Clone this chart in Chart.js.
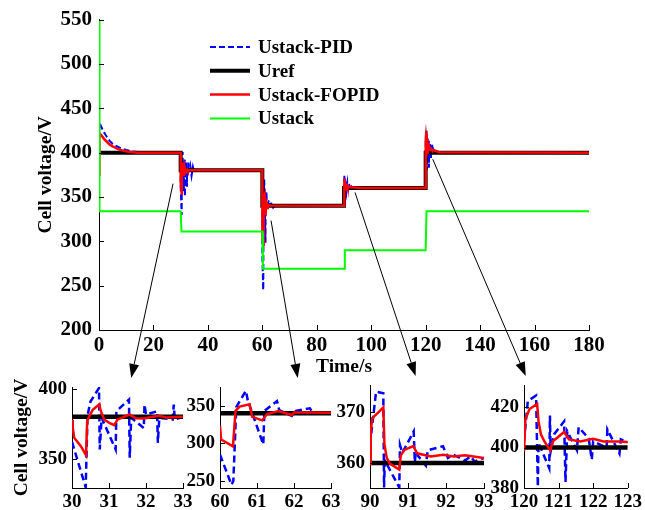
<!DOCTYPE html>
<html>
<head>
<meta charset="utf-8">
<script src="https://cdn.jsdelivr.net/npm/chart.js@4.4.1/dist/chart.umd.min.js"></script>
<style>
body { margin: 0; width: 645px; height: 510px; overflow: hidden; background: #fff; position: relative; }
canvas { position: absolute; }
</style>
</head>
<body>
<canvas id="main" width="645" height="510" style="left:0;top:0"></canvas>
<canvas id="z30" width="200" height="145" style="left:0;top:365px"></canvas>
<canvas id="z60" width="160" height="145" style="left:185px;top:365px"></canvas>
<canvas id="z90" width="170" height="145" style="left:330px;top:365px"></canvas>
<canvas id="z120" width="165" height="145" style="left:480px;top:365px"></canvas>
<script>
// Pas de changement de consigne (s) et niveaux
const stepTimes = [0, 30, 60, 90, 120, 180];
const urefLevels = [400, 380, 340, 360, 400];

// Ustack (boucle ouverte)
const ustackT = [0, 0.2, 30, 30.3, 60, 60.2, 90, 90.3, 120, 120.3, 180];
const ustackV = [550, 334, 334, 311, 311, 269, 269, 290, 290, 334, 334];

// Ustack-PID : [t, V]
const pidStart = [[0, 375], [0.15, 434], [1, 428], [2, 422], [3, 417], [4, 413], [5, 410], [6, 408], [8, 405], [10, 403], [12, 401.5], [15, 400.5], [30, 400]];
const pid30 = [[30, 362], [30.37, 329.5], [30.42, 381], [30.5, 391], [30.73, 400.7], [30.75, 356.6], [30.8, 379.3], [31.18, 356.6], [31.2, 384], [31.54, 392.4], [31.56, 350.7], [31.6, 379.3], [31.94, 372], [31.96, 388.8], [32.0, 381.7], [32.3, 384], [32.32, 361.4], [32.36, 379.3], [32.72, 378.1], [32.75, 388.8], [32.78, 378.1], [33, 380], [33.5, 386], [34, 374], [34.5, 384], [35, 378], [36, 380.5], [37, 380], [60, 380]];
const pid60 = [[60, 285], [60.31, 245], [60.36, 250], [60.44, 348], [60.7, 369.6], [60.75, 357], [61.17, 298.4], [61.2, 343], [61.54, 356], [61.6, 344], [61.94, 336.4], [62.05, 343], [62.43, 346.4], [62.5, 341], [63, 341], [63.5, 344], [64, 338], [65, 341], [66, 340], [90, 340]];
const pid90 = [[90, 363.6], [90.16, 374], [90.35, 373.7], [90.37, 355.2], [90.39, 360.5], [90.77, 355.2], [90.79, 363.5], [90.85, 362], [91.15, 366.2], [91.18, 360], [91.2, 362], [91.47, 359.5], [91.52, 362.5], [91.92, 363.3], [92.05, 361], [92.2, 361.6], [92.5, 360.5], [92.65, 361.3], [92.75, 360.3], [93, 361], [94, 360.5], [120, 360]];
const pid120 = [[120, 403], [120.11, 423], [120.35, 425.7], [120.4, 380.7], [120.42, 402.3], [120.73, 389.8], [120.75, 415.8], [120.77, 398], [120.87, 406.5], [121.16, 413], [121.2, 383], [121.25, 408], [121.53, 398.7], [121.58, 410], [121.87, 404.5], [121.96, 394], [122.0, 403], [122.39, 400], [122.41, 409], [122.76, 397], [122.8, 404], [123, 402.5], [124, 401], [125, 400.5], [180, 400]];

// Ustack-FOPID : [t, V]
const fopidStart = [[0, 375], [0.15, 422], [1, 419], [2, 415], [3, 412], [4, 409], [5, 407], [6, 405.5], [7, 404], [9, 402], [11, 401], [14, 400], [30, 400]];
const fopid30 = [[30, 378], [30.02, 372], [30.06, 365], [30.24, 359], [30.38, 352.5], [30.41, 377], [30.47, 380.5], [30.56, 385], [30.74, 389], [30.77, 385], [30.87, 378], [31.01, 375.7], [31.14, 374], [31.23, 378], [31.55, 381.7], [31.73, 379], [31.95, 378.8], [32.18, 380], [32.36, 380.7], [32.54, 379.5], [33, 380], [60, 380]];
const fopid60 = [[60, 323], [60.03, 305], [60.35, 296], [60.42, 343], [60.53, 348.7], [60.8, 351.8], [60.87, 335], [61.14, 330.4], [61.27, 338.9], [61.58, 342.9], [61.94, 337.6], [62.0, 341], [62.3, 341], [63, 340.5], [90, 340]];
const fopid90 = [[90, 359.8], [90.02, 366.2], [90.06, 368.8], [90.2, 369.8], [90.35, 370.9], [90.38, 363.7], [90.44, 361], [90.52, 359.9], [90.77, 358.7], [90.81, 361.5], [90.91, 362.6], [91.14, 363.3], [91.24, 361.9], [91.6, 361.3], [91.93, 361.6], [92.2, 361.3], [92.5, 361.5], [93, 361], [95, 360.3], [96, 360], [120, 360]];
const fopid120 = [[120, 398], [120.04, 414], [120.16, 419], [120.38, 421.5], [120.42, 413], [120.49, 406.5], [120.59, 403], [120.76, 398.5], [120.83, 403], [121.16, 407.7], [121.3, 404], [121.63, 403], [122.0, 404.3], [122.3, 403], [122.7, 403], [123, 402.7], [125, 400.5], [180, 400]];

// Graduations
const mainXTicks = [0, 20, 40, 60, 80, 100, 120, 140, 160, 180];
const mainYTicks = [200, 250, 300, 350, 400, 450, 500, 550];
const z30XTicks = [30, 31, 32, 33], z30YTicks = [350, 400];
const z60XTicks = [60, 61, 62, 63], z60YTicks = [250, 300, 350];
const z90XTicks = [90, 91, 92, 93], z90YTicks = [360, 370];
const z120XTicks = [120, 121, 122, 123], z120YTicks = [380, 400, 420];

const BLUE = '#0000ff', RED = '#ff0000', GREEN = '#00ff00', BLACK = '#000000';
const FONT = '"Liberation Serif", "Times New Roman", serif';

Chart.defaults.font.family = FONT;
Chart.defaults.font.weight = 'bold';
Chart.defaults.color = '#000';

const toXY = pts => pts.map(p => ({ x: p[0], y: p[1] }));

function urefSteps() {
    const out = [];
    for (let i = 0; i < urefLevels.length; i++) {
        out.push({ x: stepTimes[i], y: urefLevels[i] });
        out.push({ x: stepTimes[i + 1], y: urefLevels[i] });
    }
    return out;
}

// petits traits de graduation vers l'intérieur
const inwardTicks = {
    id: 'inwardTicks',
    afterDraw(chart) {
        const { ctx, chartArea: a, scales } = chart;
        ctx.save();
        ctx.strokeStyle = '#000';
        ctx.lineWidth = 1;
        ctx.beginPath();
        scales.x.ticks.forEach(t => {
            const x = Math.round(scales.x.getPixelForValue(t.value)) + 0.5;
            ctx.moveTo(x, a.bottom);
            ctx.lineTo(x, a.bottom - 5);
        });
        scales.y.ticks.forEach(t => {
            const y = Math.round(scales.y.getPixelForValue(t.value)) + 0.5;
            ctx.moveTo(a.left, y);
            ctx.lineTo(a.left + 5, y);
        });
        ctx.stroke();
        ctx.restore();
    }
};

function axes(xTicks, yTicks, ymin, ymax, sizes) {
    return {
        x: {
            type: 'linear', min: xTicks[0], max: xTicks[xTicks.length - 1],
            grid: { display: false, drawTicks: false },
            border: { display: true, color: '#000', width: 1 },
            ticks: { font: { size: sizes.tick }, padding: sizes.xPad, autoSkip: false, maxRotation: 0, color: '#000' },
            afterBuildTicks: s => { s.ticks = xTicks.map(v => ({ value: v })); },
            afterFit: s => { s.height = sizes.xHeight; }
        },
        y: {
            type: 'linear', min: ymin, max: ymax,
            grid: { display: false, drawTicks: false },
            border: { display: true, color: '#000', width: 1 },
            ticks: { font: { size: sizes.tick }, padding: sizes.yPad, autoSkip: false, color: '#000' },
            afterBuildTicks: s => { s.ticks = yTicks.map(v => ({ value: v })); },
            afterFit: s => { s.width = sizes.yWidth; },
            title: sizes.yTitle ? { display: true, text: sizes.yTitle, font: { size: 19.5, weight: 'bold' }, padding: { top: 4, bottom: 0 }, color: '#000' } : { display: false }
        }
    };
}

// Zooms (order : le plus grand est dessiné en dessous)
function makeInset(id, xTicks, yTicks, ymin, ymax, pid, fopid, layout) {
    const x0 = xTicks[0], x1 = xTicks[xTicks.length - 1];
    const ref = urefLevels[stepTimes.indexOf(x0)];
    return new Chart(document.getElementById(id), {
        type: 'line',
        data: {
            datasets: [
                { label: 'Ustack-PID', data: toXY(pid), borderColor: BLUE, borderWidth: 2.5, borderDash: [7, 4], order: 3 },
                { label: 'Uref', data: [{ x: x0, y: ref }, { x: x1, y: ref }], borderColor: BLACK, borderWidth: 4.5, order: 2 },
                { label: 'Ustack-FOPID', data: toXY(fopid), borderColor: RED, borderWidth: 2.5, order: 1 }
            ]
        },
        options: {
            responsive: false, animation: false, events: [],
            elements: { point: { radius: 0 }, line: { tension: 0 } },
            layout: { padding: layout.padding },
            plugins: { legend: { display: false }, tooltip: { enabled: false } },
            scales: axes(xTicks, yTicks, ymin, ymax, { tick: 19, xPad: 3, yPad: 5, xHeight: 22, yWidth: layout.yWidth, yTitle: layout.yTitle })
        },
        plugins: [inwardTicks]
    });
}

const insets = [
    makeInset('z30', z30XTicks, z30YTicks, 329, 401.4, pid30, fopid30, { padding: { left: 6, top: 22, right: 17, bottom: 0 }, yWidth: 66, yTitle: 'Cell voltage/V' }),
    makeInset('z60', z60XTicks, z60YTicks, 240.7, 374.7, pid60, fopid60, { padding: { left: 0, top: 22, right: 14, bottom: 0 }, yWidth: 35 }),
    makeInset('z90', z90XTicks, z90YTicks, 355.1, 375.3, pid90, fopid90, { padding: { left: 0, top: 20, right: 16, bottom: 0 }, yWidth: 40 }),
    makeInset('z120', z120XTicks, z120YTicks, 380, 430.9, pid120, fopid120, { padding: { left: 0, top: 20, right: 14, bottom: 0 }, yWidth: 44 })
];

// flèches : départ (t, V) sur le graphe principal, arrivée (t) au-dessus du zoom
const arrowFrom = [[27.2, 365], [63.2, 323.4], [94.05, 355.1], [122.6, 392.6]];
const arrowToT = [31.6, 62.1, 91.2, 120.05];

const arrows = {
    id: 'arrows',
    afterDraw(chart) {
        const { ctx, scales } = chart;
        ctx.save();
        ctx.strokeStyle = '#000';
        ctx.fillStyle = '#000';
        ctx.lineWidth = 1;
        arrowFrom.forEach((p, i) => {
            const ic = insets[i];
            const sx = scales.x.getPixelForValue(p[0]);
            const sy = scales.y.getPixelForValue(p[1]);
            const ex = ic.canvas.offsetLeft + ic.scales.x.getPixelForValue(arrowToT[i]);
            const ey = ic.canvas.offsetTop + ic.chartArea.top - 9;
            const ang = Math.atan2(ey - sy, ex - sx);
            const L = 14, W = 5;
            const bx = ex - L * Math.cos(ang), by = ey - L * Math.sin(ang);
            ctx.beginPath();
            ctx.moveTo(sx, sy);
            ctx.lineTo(bx, by);
            ctx.stroke();
            ctx.beginPath();
            ctx.moveTo(ex, ey);
            ctx.lineTo(bx + W * Math.sin(ang), by - W * Math.cos(ang));
            ctx.lineTo(bx - W * Math.sin(ang), by + W * Math.cos(ang));
            ctx.closePath();
            ctx.fill();
        });
        ctx.restore();
    }
};

// titre de l'axe des temps
const timeTitle = {
    id: 'timeTitle',
    afterDraw(chart, args, opts) {
        const { ctx, chartArea: a } = chart;
        ctx.save();
        ctx.fillStyle = '#000';
        ctx.font = 'bold 19.5px ' + FONT;
        ctx.textAlign = 'center';
        ctx.textBaseline = 'middle';
        ctx.fillText(opts.text, (a.left + a.right) / 2, a.bottom + opts.dy);
        ctx.restore();
    }
};

// légende dessinée à la main dans la zone du graphe
const legendLines = {
    id: 'legendLines',
    afterDraw(chart, args, opts) {
        const ctx = chart.ctx;
        chart.data.datasets.forEach((ds, i) => {
            const y = opts.top + i * opts.gap;
            ctx.save();
            ctx.strokeStyle = ds.borderColor;
            ctx.lineWidth = ds.borderWidth;
            ctx.setLineDash(ds.borderDash || []);
            ctx.beginPath();
            ctx.moveTo(opts.left, y);
            ctx.lineTo(opts.left + opts.len, y);
            ctx.stroke();
            ctx.setLineDash([]);
            ctx.fillStyle = '#000';
            ctx.font = 'bold 19px ' + FONT;
            ctx.textBaseline = 'middle';
            ctx.fillText(ds.label, opts.left + opts.len + 8, y + 1);
            ctx.restore();
        });
    }
};

new Chart(document.getElementById('main'), {
    type: 'line',
    data: {
        datasets: [
            { label: 'Ustack-PID', data: toXY([...pidStart, ...pid30, ...pid60, ...pid90, ...pid120]), borderColor: BLUE, borderWidth: 2, borderDash: [6, 3], order: 4 },
            { label: 'Uref', data: urefSteps(), borderColor: BLACK, borderWidth: 4, order: 3 },
            { label: 'Ustack-FOPID', data: toXY([...fopidStart, ...fopid30, ...fopid60, ...fopid90, ...fopid120]), borderColor: RED, borderWidth: 2.5, order: 2 },
            { label: 'Ustack', data: ustackT.map((t, i) => ({ x: t, y: ustackV[i] })), borderColor: GREEN, borderWidth: 2, order: 1 }
        ]
    },
    options: {
        responsive: false, animation: false, events: [],
        elements: { point: { radius: 0 }, line: { tension: 0 } },
        layout: { padding: { left: 30, top: 18, right: 56, bottom: 125 } },
        plugins: {
            legend: { display: false }, tooltip: { enabled: false },
            legendLines: { left: 210, top: 47, gap: 23.8, len: 40 },
            timeTitle: { text: 'Time/s', dy: 37 }
        },
        scales: axes(mainXTicks, mainYTicks, 200, 550, { tick: 21, xPad: 3, yPad: 7, xHeight: 55, yWidth: 69, yTitle: 'Cell voltage/V' })
    },
    plugins: [inwardTicks, legendLines, arrows, timeTitle]
});
</script>
</body>
</html>
